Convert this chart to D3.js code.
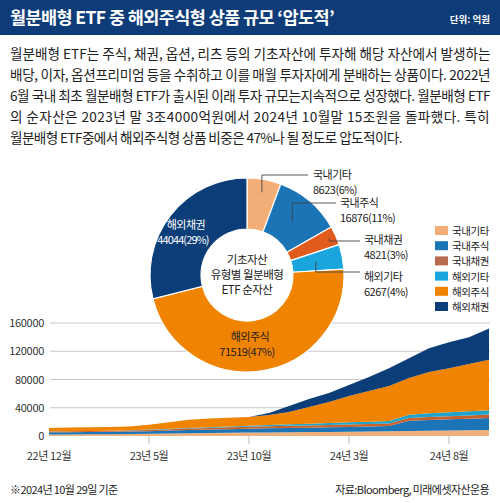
<!DOCTYPE html>
<html><head><meta charset="utf-8">
<script src="https://cdn.jsdelivr.net/npm/d3@7"></script>
<style>
html,body{margin:0;padding:0;background:#fff;}
svg{display:block;font-family:"Noto Sans CJK KR","Noto Sans",sans-serif;}
</style></head><body>
<svg id="c" width="500" height="503"></svg>
<script>
// ---- data ----
const categories = ["국내기타","국내주식","국내채권","해외기타","해외주식","해외채권"];
const donutValues = [8623, 16876, 4821, 6267, 71519, 44044];
const donutPct = ["6%","11%","3%","4%","47%","29%"];
const months = ["22-12","23-01","23-02","23-03","23-04","23-05","23-06","23-07","23-08","23-09","23-10","23-11","23-12","24-01","24-02","24-03","24-04","24-05","24-06","24-07","24-08","24-09","24-10"];
const s국내기타 = [2200,2300,2400,2600,2800,3100,3500,3900,4200,4500,4800,5000,5300,5500,5800,6000,6300,6600,7000,7400,7800,8200,8623];
const s국내주식 = [3000,3100,3200,3300,3500,3800,4200,4600,4900,5200,5500,5800,6000,6300,6600,6900,7200,7600,14500,15200,15800,16300,16876];
const s국내채권 = [1300,1300,1400,1400,1500,1700,1900,2100,2400,2600,2800,3000,3100,3200,3300,3400,3500,3600,3900,4200,4400,4600,4821];
const s해외기타 = [200,200,250,300,350,450,600,800,1000,1200,1500,1800,2100,2400,2700,3000,3300,3600,4800,5300,5700,6000,6267];
const s해외주식 = [4800,5000,5050,5100,5350,6950,9300,11600,12300,12300,12200,14100,17500,23600,29600,37200,43300,49300,51800,58400,62400,66700,71519];
const s해외채권 = [0,0,0,0,0,0,0,0,0,0,0,2800,8400,11300,12800,15600,19800,25400,28200,33900,36800,38200,44044];
const yTicks = [0,40000,80000,120000,160000];
const xTickIdx = [0,5,10,15,20];
const xTickLabels = ["22년 12월","23년 5월","23년 10월","24년 3월","24년 8월"];
const bodyLines = [
 "월분배형 ETF는 주식, 채권, 옵션, 리츠 등의 기초자산에 투자해 해당 자산에서 발생하는",
 "배당, 이자, 옵션프리미엄 등을 수취하고 이를 매월 투자자에게 분배하는 상품이다. 2022년",
 "6월 국내 최초 월분배형 ETF가 출시된 이래 투자 규모는지속적으로 성장했다. 월분배형 ETF",
 "의 순자산은 2023년 말 3조4000억원에서 2024년 10월말 15조원을 돌파했다. 특히",
 "월분배형 ETF중에서 해외주식형 상품 비중은 47%나 될 정도로 압도적이다."
];

// ---- styles ----
const donutColors = ["#f2ae76","#1b74b5","#e05b1c","#1aa6dc","#f08300","#0b3d78"];
const areaColors  = ["#f0b27c","#1b74b5","#c9612c","#22a3c9","#f08300","#0b3d78"];
const legendColors= ["#f2ae76","#1b74b5","#b86a4f","#1aa6dc","#f08300","#0b3d78"];

const svg = d3.select("#c");

// header
svg.append("rect").attr("x",0).attr("y",0).attr("width",500).attr("height",35).attr("fill","#0d3c78");
svg.append("text").attr("x",10).attr("y",24).attr("fill","#fff").attr("font-size",17.5).attr("font-weight",700)
  .attr("letter-spacing",-0.6).text("월분배형 ETF 중 해외주식형 상품 규모 ‘압도적’");
svg.append("text").attr("x",490).attr("y",23).attr("text-anchor","end").attr("fill","#fff").attr("font-size",9.5).attr("font-weight",700)
  .text("단위: 억원");

// body text
const bodyY = [59,80,101,122,143];
bodyLines.forEach((t,i)=>{
  const tx = svg.append("text").attr("x",10).attr("y",bodyY[i]).attr("fill","#222").attr("font-size",13.6)
    .attr("letter-spacing",-0.6).text(t);
  if(i<4) tx.attr("textLength", i===3?479:480).attr("lengthAdjust","spacing");
});

// area chart
const x = d3.scaleLinear().domain([0, months.length-1]).range([49, 489]);
const y = d3.scaleLinear().domain([0,160000]).range([436, 323]);

svg.append("g").selectAll("line").data(yTicks.filter(d=>d>0)).join("line")
  .attr("x1",50).attr("x2",490).attr("y1",d=>y(d)).attr("y2",d=>y(d))
  .attr("stroke","#c8c8c8").attr("stroke-width",1);
svg.append("g").selectAll("text").data(yTicks).join("text")
  .attr("x",44).attr("y",d=>y(d)+4).attr("text-anchor","end").attr("font-size",11).attr("fill","#333")
  .attr("letter-spacing",-0.3).text(d=>d);

const rows = months.map((m,i)=>({i, "국내기타":s국내기타[i],"국내주식":s국내주식[i],"국내채권":s국내채권[i],"해외기타":s해외기타[i],"해외주식":s해외주식[i],"해외채권":s해외채권[i]}));
const stacked = d3.stack().keys(categories)(rows);
const area = d3.area().x(d=>x(d.data.i)).y0(d=>y(d[0])).y1(d=>y(d[1])).curve(d3.curveLinear);
svg.append("g").selectAll("path").data(stacked).join("path")
  .attr("d",area).attr("fill",(d,i)=>areaColors[i]);

// x ticks
svg.append("g").selectAll("line").data(xTickIdx.slice(1)).join("line")
  .attr("x1",d=>x(d)).attr("x2",d=>x(d)).attr("y1",436).attr("y2",444).attr("stroke","#bbb");
svg.append("g").selectAll("text").data(xTickIdx).join("text")
  .attr("x",d=>x(d)).attr("y",460).attr("text-anchor","middle").attr("font-size",11).attr("fill","#333")
  .attr("letter-spacing",-0.4).text((d,i)=>xTickLabels[i]);

// donut
const cx=247, cy=275, R=97, r0=46;
const pie = d3.pie().sort(null).value(d=>d)(donutValues);
const arc = d3.arc().innerRadius(r0).outerRadius(R);
const gD = svg.append("g").attr("transform",`translate(${cx},${cy})`);
gD.selectAll("path").data(pie).join("path").attr("d",arc)
  .attr("fill",(d,i)=>donutColors[i]).attr("stroke","#fff").attr("stroke-width",1.2);

// leaders
const mid = d=>(d.startAngle+d.endAngle)/2;
const pt = (d,rr)=>[cx+rr*Math.sin(mid(d)), cy-rr*Math.cos(mid(d))];
const leaderG = svg.append("g").attr("stroke","#444").attr("stroke-width",0.9).attr("fill","none");
let p = pt(pie[0],84); leaderG.append("path").attr("d",`M${p[0]},${p[1]}V175H308`);
p = pt(pie[1],70); leaderG.append("path").attr("d",`M${p[0]},${p[1]}V203H336`);
p = pt(pie[2],90); leaderG.append("path").attr("d",`M${p[0]},${p[1]}V241H360`);
p = pt(pie[3],70); leaderG.append("path").attr("d",`M${p[0]},${p[1]}V272H360`);

// two-line labels as one text element with tspans
const lab2 = (xx,yy,idx,anchor,col,ls2)=>{
  const t = svg.append("text").attr("x",xx).attr("y",yy).attr("text-anchor",anchor||"start")
    .attr("fill",col||"#222").attr("font-size",11).attr("letter-spacing",-0.5);
  t.append("tspan").attr("x",xx).attr("dy",0).text(categories[idx]);
  t.append("tspan").attr("x",anchor==="middle"?xx-3:xx).attr("dy",14.5).attr("letter-spacing",ls2===undefined?-0.5:ls2)
    .text(`${donutValues[idx]}(${donutPct[idx]})`);
};
lab2(313,179,0); lab2(340,207,1); lab2(364,244,2); lab2(364,281,3);
lab2(186,229,5,"middle","#fff",-0.9);
lab2(250,341,4,"middle","#222");

// center
const ct = svg.append("text").attr("x",cx).attr("y",264).attr("text-anchor","middle").attr("font-size",11.5)
    .attr("fill","#222").attr("letter-spacing",-0.5);
["기초자산","유형별 월분배형","ETF 순자산"].forEach((t,i)=>
  ct.append("tspan").attr("x",cx).attr("dy",i===0?0:15).text(t));

// legend
const lg = svg.append("g");
categories.forEach((c,i)=>{
  const yy = 231 + i*15.2;
  lg.append("rect").attr("x",435).attr("y",yy-5).attr("width",13).attr("height",9).attr("fill",legendColors[i]);
  lg.append("text").attr("x",452).attr("y",yy+4).attr("font-size",10.5).attr("fill","#222").attr("letter-spacing",-0.4).text(c);
});

// footer
svg.append("text").attr("x",10).attr("y",494).attr("font-size",11).attr("fill","#222").attr("letter-spacing",-0.6).text("※2024년 10월 29일 기준");
svg.append("text").attr("x",489).attr("y",494).attr("text-anchor","end").attr("font-size",11).attr("fill","#222").attr("letter-spacing",-0.6).text("자료:Bloomberg, 미래에셋자산운용");
</script></body></html>
